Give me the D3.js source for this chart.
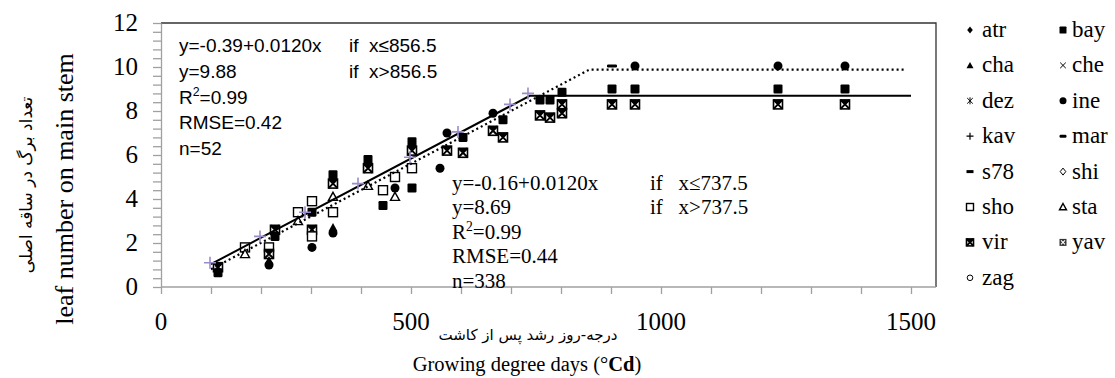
<!DOCTYPE html>
<html><head><meta charset="utf-8">
<script src="https://cdn.jsdelivr.net/npm/d3@7"></script>
<style>body{margin:0;background:#fff}svg{display:block}</style>
</head><body><svg id="c" width="1115" height="378"></svg>
<script>
// ---- data ----
const xTicks = [0, 500, 1000, 1500];
const yTicks = [0, 2, 4, 6, 8, 10, 12];
// observations: growing degree days, leaf number, cultivar marker
const obsGdd = [114,114, 168,168, 216,216,216,216, 228,228, 274,274, 302,302,302,302,302,
  344,344,344,344,344,344, 414,414,414, 444,444, 468,468,468, 502,502,502,502, 558,
  572,572, 604,604, 664,664, 684,684, 758,758, 778,778, 802,802,802,
  902,902,902, 948,948,948, 1234,1234,1234, 1368,1368,1368];
const obsLeaf = [0.9,0.65, 1.8,1.5, 1.8,1.5,1.2,1.0, 2.6,2.3, 3.4,3.0, 3.9,3.4,2.6,2.3,1.8,
  5.1,4.7,4.1,3.4,2.7,2.45, 5.8,5.4,4.6, 4.4,3.7, 5.0,4.5,4.1, 6.6,6.2,5.4,4.5, 5.4,
  7.0,6.2, 6.8,6.1, 7.9,7.1, 7.6,6.8, 8.5,7.8, 8.5,7.7, 8.85,8.3,7.9,
  10.05,9.0,8.3, 10.05,9.0,8.3, 10.05,9.0,8.3, 10.05,9.0,8.3];
const obsCultivar = ["vir","bay", "sho","sta", "sho","vir","cha","ine", "vir","bay", "sho","sta", "sho","bay","vir","sho","ine",
  "bay","vir","sta","sho","cha","ine", "bay","vir","sta", "sho","bay", "sho","ine","sta", "bay","vir","sho","bay", "ine",
  "ine","vir", "bay","vir", "ine","vir", "bay","vir", "bay","vir", "bay","vir", "bay","vir","vir",
  "mar","bay","vir", "ine","bay","vir", "ine","bay","vir", "ine","bay","vir"];
// predicted (purple crosses)
const predGdd = [98, 198, 288, 394, 498, 594, 698, 734];
const predLeaf = [1.1, 2.3, 3.4, 4.7, 5.9, 7.05, 8.3, 8.8];
// fitted segmented lines (vertices)
const fitSolidX = [100, 737.5, 1500];
const fitSolidY = [1.04, 8.69, 8.69];
const fitDotX = [100, 856.5, 1490];
const fitDotY = [0.81, 9.88, 9.88];
const legendNames = ["atr","bay","cha","che","dez","ine","kav","mar","s78","shi","sho","sta","vir","yav","zag"];
const eqTop = ["y=-0.39+0.0120x", "y=9.88", "R2=0.99", "RMSE=0.42", "n=52"];
const eqTopCond = ["if  x\u2264856.5", "if  x>856.5"];
const eqBot = ["y=-0.16+0.0120x", "y=8.69", "R2=0.99", "RMSE=0.44", "n=338"];
const eqBotCond = ["if   x\u2264737.5", "if   x>737.5"];

// ---- layout ----
const svg = d3.select("#c");
const SERIF = '"Liberation Serif", "Times New Roman", Times, serif';
const SANS = '"Liberation Sans", Arial, sans-serif';
const L = 161, R = 936, T = 23, B = 287;
const x = d3.scaleLinear().domain([0, 1550]).range([L, R]);
const y = d3.scaleLinear().domain([0, 12]).range([B, T]);
const axisGray = "#a0a0a0";

// frame (top/right)
svg.append("path").attr("d", `M${L},${T}H${R}V${B}`).attr("fill","none").attr("stroke","#333").attr("stroke-width",1.3);

// x axis
const gx = svg.append("g").attr("transform", `translate(0,${B})`)
  .call(d3.axisBottom(x).tickValues(d3.range(0, 1501, 100)).tickSize(7).tickSizeOuter(0).tickFormat(""));
gx.selectAll("path,line").attr("stroke", axisGray).attr("stroke-width",1.3);
gx.select(".domain").attr("d", `M${L},0H${R}`);
svg.append("g").selectAll("text").data(xTicks).join("text")
  .attr("x", d => x(d)).attr("y", 330).attr("text-anchor","middle")
  .style("font-family", SERIF).style("font-size", "25px").text(d => d);

// y axis
const gy = svg.append("g").attr("transform", `translate(${L},0)`)
  .call(d3.axisLeft(y).tickValues(d3.range(0, 12.01, 0.4)).tickSize(8).tickSizeOuter(0).tickFormat(""));
gy.selectAll("path,line").attr("stroke", axisGray).attr("stroke-width",1.3);
svg.append("g").selectAll("text").data(yTicks).join("text")
  .attr("x", 138).attr("y", d => y(d) + 8).attr("text-anchor","end")
  .style("font-family", SERIF).style("font-size", "25px").text(d => d);

// axis titles
svg.append("text").attr("transform","translate(73,189) rotate(-90)").attr("text-anchor","middle")
  .style("font-family", SERIF).style("font-size", "26px").text("leaf number on main stem");
svg.append("text").attr("transform","translate(32,185) rotate(-90)").attr("text-anchor","middle")
  .style("font-family", '"DejaVu Sans", sans-serif').style("font-size", "17px").text("تعداد برگ در ساقه اصلی");
svg.append("text").attr("x",528).attr("y",340).attr("text-anchor","middle")
  .style("font-family", '"DejaVu Sans", sans-serif').style("font-size", "15px").text("درجه-روز رشد پس از کاشت");
const xt = svg.append("text").attr("x",527).attr("y",371).attr("text-anchor","middle")
  .style("font-family", SERIF).style("font-size", "20.5px");
xt.append("tspan").text("Growing degree days (\u00b0");
xt.append("tspan").style("font-weight","bold").text("Cd");
xt.append("tspan").text(")");

// ---- markers ----
function marker(g, name, cx, cy, s) {
  const h = s / 2;
  const k = "#000";
  switch (name) {
    case "atr": g.append("path").attr("d", `M${cx},${cy-h}L${cx+h*0.8},${cy}L${cx},${cy+h}L${cx-h*0.8},${cy}Z`).attr("fill",k); break;
    case "bay": g.append("rect").attr("x",cx-h).attr("y",cy-h).attr("width",s).attr("height",s).attr("rx",s*0.12).attr("fill",k); break;
    case "cha": g.append("path").attr("d", `M${cx},${cy-h}L${cx+h},${cy+h*0.8}L${cx-h},${cy+h*0.8}Z`).attr("fill",k); break;
    case "che": g.append("path").attr("d", `M${cx-h*0.8},${cy-h*0.8}L${cx+h*0.8},${cy+h*0.8}M${cx+h*0.8},${cy-h*0.8}L${cx-h*0.8},${cy+h*0.8}`).attr("stroke",k).attr("stroke-width",1); break;
    case "dez": g.append("path").attr("d", `M${cx-h*0.8},${cy-h*0.8}L${cx+h*0.8},${cy+h*0.8}M${cx+h*0.8},${cy-h*0.8}L${cx-h*0.8},${cy+h*0.8}M${cx},${cy-h}V${cy+h}`).attr("stroke",k).attr("stroke-width",1); break;
    case "ine": g.append("circle").attr("cx",cx).attr("cy",cy).attr("r",h).attr("fill",k); break;
    case "kav": g.append("path").attr("d", `M${cx-h},${cy}H${cx+h}M${cx},${cy-h}V${cy+h}`).attr("stroke",k).attr("stroke-width",1.2); break;
    case "mar": g.append("rect").attr("x",cx-h).attr("y",cy-1.5).attr("width",s).attr("height",3).attr("rx",1.2).attr("fill",k); break;
    case "s78": g.append("rect").attr("x",cx-h).attr("y",cy-1.5).attr("width",s).attr("height",3).attr("fill",k); break;
    case "shi": g.append("path").attr("d", `M${cx},${cy-h}L${cx+h*0.8},${cy}L${cx},${cy+h}L${cx-h*0.8},${cy}Z`).attr("fill","#fff").attr("stroke",k).attr("stroke-width",1); break;
    case "sho": g.append("rect").attr("x",cx-h).attr("y",cy-h).attr("width",s).attr("height",s).attr("fill","#fff").attr("stroke",k).attr("stroke-width",1.4); break;
    case "sta": g.append("path").attr("d", `M${cx},${cy-h}L${cx+h},${cy+h*0.8}L${cx-h},${cy+h*0.8}Z`).attr("fill","#fff").attr("stroke",k).attr("stroke-width",1.4); break;
    case "vir":
      g.append("rect").attr("x",cx-h).attr("y",cy-h).attr("width",s).attr("height",s).attr("fill","#fff").attr("stroke",k).attr("stroke-width",1.6);
      g.append("path").attr("d", `M${cx-h},${cy-h}L${cx+h},${cy+h}M${cx+h},${cy-h}L${cx-h},${cy+h}`).attr("stroke",k).attr("stroke-width",2);
      g.append("path").attr("d", `M${cx-h},${cy-h}H${cx+h}L${cx},${cy}Z`).attr("fill",k);
      break;
    case "yav":
      g.append("rect").attr("x",cx-h).attr("y",cy-h).attr("width",s).attr("height",s).attr("fill","#333");
      g.append("path").attr("d", `M${cx-h+1.5},${cy-h+1.5}L${cx+h-1.5},${cy+h-1.5}M${cx+h-1.5},${cy-h+1.5}L${cx-h+1.5},${cy+h-1.5}`).attr("stroke","#fff").attr("stroke-width",1.2);
      break;
    case "zag": g.append("circle").attr("cx",cx).attr("cy",cy).attr("r",h*0.8).attr("fill","#fff").attr("stroke",k).attr("stroke-width",1); break;
  }
}

// observations
const gObs = svg.append("g");
obsGdd.forEach((gd, i) => marker(gObs, obsCultivar[i], x(gd), y(obsLeaf[i]), obsCultivar[i] === "mar" ? 10 : 9));

// fitted lines
const line = d3.line().x(d => x(d[0])).y(d => y(d[1]));
svg.append("path").attr("d", line(fitDotX.map((v,i)=>[v, fitDotY[i]])))
  .attr("fill","none").attr("stroke","#000").attr("stroke-width",2.2).attr("stroke-dasharray","2,3");
svg.append("path").attr("d", line(fitSolidX.map((v,i)=>[v, fitSolidY[i]])))
  .attr("fill","none").attr("stroke","#000").attr("stroke-width",2);

// predicted crosses
svg.append("g").selectAll("path").data(predGdd).join("path")
  .attr("d", (d,i) => { const cx = x(d), cy = y(predLeaf[i]); return `M${cx-6},${cy}H${cx+6}M${cx},${cy-6}V${cy+6}`; })
  .attr("stroke","#9b8ccb").attr("stroke-width",1.6);

// ---- equations ----
function eqBlock(lines, conds, x0, xc, y0, dy, font, size) {
  const g = svg.append("g").attr("fill","#000");
  lines.forEach((t, i) => {
    const tx = g.append("text").attr("x", x0).attr("y", y0 + i * dy)
      .style("font-family", font).style("font-size", size + "px");
    if (t.startsWith("R2")) {
      tx.append("tspan").text("R");
      tx.append("tspan").style("font-size", (size * 0.65) + "px").attr("dy", -size * 0.38).text("2");
      tx.append("tspan").attr("dy", size * 0.38).text(t.slice(2));
    } else tx.text(t);
  });
  conds.forEach((t, i) => g.append("text").attr("x", xc).attr("y", y0 + i * dy)
    .style("font-family", font).style("font-size", size + "px").style("white-space","pre").text(t));
}
eqBlock(eqTop, eqTopCond, 179, 349, 52, 25.8, SANS, 19);
eqBlock(eqBot, eqBotCond, 452, 650, 190, 24.4, SERIF, 21);

// ---- legend ----
const lg = svg.append("g");
legendNames.forEach((n, i) => {
  const col = i % 2, row = Math.floor(i / 2);
  const mx = col === 0 ? 970 : 1063, cy = 30 + row * 35.4;
  marker(lg, n, mx, cy, 7);
  lg.append("text").attr("x", mx + (col === 0 ? 12 : 9)).attr("y", cy + 7)
    .style("font-family", SERIF).style("font-size", "23px").text(n);
});
</script></body></html>
